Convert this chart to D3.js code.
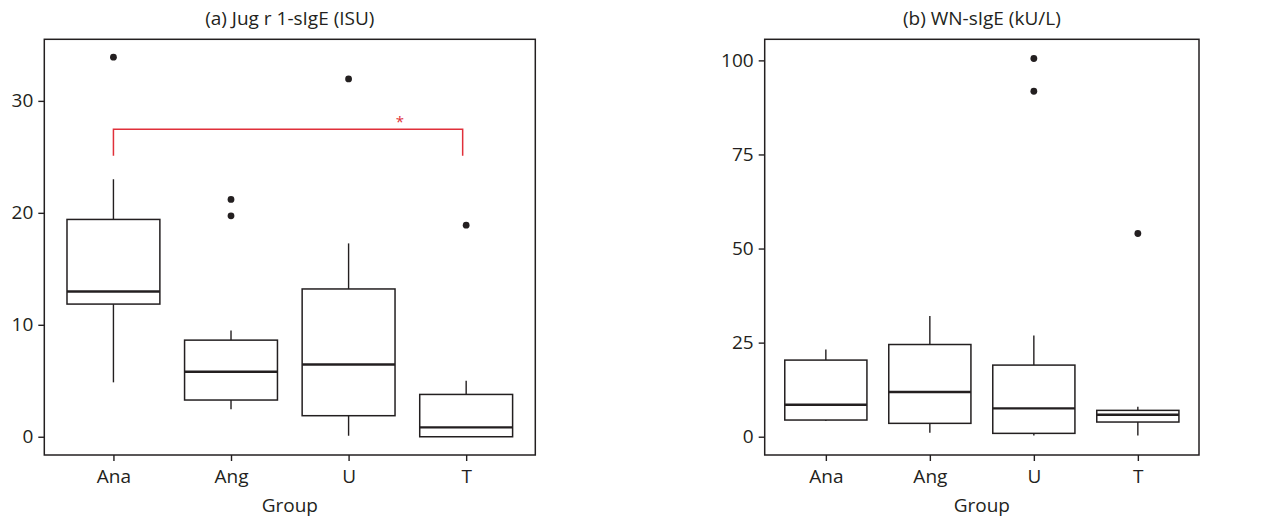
<!DOCTYPE html>
<html>
<head>
<meta charset="utf-8">
<script src="https://cdn.jsdelivr.net/npm/d3@7"></script>
<style>
  html, body { margin: 0; padding: 0; background: #fff; }
  svg text { font-family: "Open Sans", "Noto Sans", sans-serif; fill: #231f20; }
</style>
</head>
<body>
<svg id="chart" width="1271" height="519"></svg>
<script>
// ---- Data ----
const groups = ["Ana", "Ang", "U", "T"];

// Panel (a) Jug r 1-sIgE (ISU): [lowerWhisker, Q1, median, Q3, upperWhisker]
const jugStats = [
  [4.86, 11.85, 12.98, 19.41, 23.0],
  [2.45, 3.28, 5.8, 8.63, 9.5],
  [0.09, 1.88, 6.46, 13.2, 17.27],
  [0.0, 0.0, 0.84, 3.78, 5.0]
];
const jugOutliers = [[33.9], [21.2, 19.73], [31.96], [18.9]];
const jugTicks = [0, 10, 20, 30];
const jugDomain = [-1.63, 35.5];
const jugSig = { from: "Ana", to: "T", y: 27.47, yEnd: 25.1, label: "*" };

// Panel (b) WN-sIgE (kU/L)
const wnStats = [
  [4.2, 4.43, 8.5, 20.36, 23.2],
  [1.06, 3.55, 11.87, 24.5, 32.1],
  [0.35, 0.89, 7.53, 19.03, 26.9],
  [0.35, 3.9, 5.85, 7.0, 7.96]
];
const wnOutliers = [[], [], [100.5, 91.8], [54.0]];
const wnTicks = [0, 25, 50, 75, 100];
const wnDomain = [-4.86, 105.6];

const titles = ["(a) Jug r 1-sIgE (ISU)", "(b) WN-sIgE (kU/L)"];
const xLabel = "Group";

// ---- Drawing ----
const svg = d3.select("#chart");
const ink = "#231f20";
const red = "#e0303a";
const fs = "19px";

function panel(opts) {
  const { left, right, top, bottom, stats, outliers, ticks, domain, title, sig } = opts;
  const g = svg.append("g");
  const xc = d3.scalePoint().domain(groups).range([left, right]).padding(0.588);
  const step = xc.step();
  const boxW = step * 0.79;
  const y = d3.scaleLinear().domain(domain).range([bottom, top]);

  // Title
  g.append("text").attr("x", (left + right) / 2).attr("y", 25)
    .attr("text-anchor", "middle").style("font-size", fs).text(title);

  // Boxes
  groups.forEach((grp, i) => {
    const [lo, q1, med, q3, hi] = stats[i];
    const cx = xc(grp);
    const bg = g.append("g");
    bg.append("line").attr("x1", cx).attr("x2", cx).attr("y1", y(hi)).attr("y2", y(q3))
      .attr("stroke", ink).attr("stroke-width", 1.4);
    bg.append("line").attr("x1", cx).attr("x2", cx).attr("y1", y(q1)).attr("y2", y(lo))
      .attr("stroke", ink).attr("stroke-width", 1.4);
    bg.append("rect").attr("x", cx - boxW / 2).attr("width", boxW)
      .attr("y", y(q3)).attr("height", Math.max(0, y(q1) - y(q3)))
      .attr("fill", "#fff").attr("stroke", ink).attr("stroke-width", 1.5);
    bg.append("line").attr("x1", cx - boxW / 2).attr("x2", cx + boxW / 2)
      .attr("y1", y(med)).attr("y2", y(med)).attr("stroke", ink).attr("stroke-width", 2.4);
    outliers[i].forEach(v => {
      bg.append("circle").attr("cx", cx).attr("cy", y(v)).attr("r", 3.4).attr("fill", ink);
    });
  });

  // Significance bracket
  if (sig) {
    const x1 = xc(sig.from), x2 = xc(sig.to) - 3.5;
    g.append("path")
      .attr("d", `M${x1},${y(sig.yEnd)}V${y(sig.y)}H${x2}V${y(sig.yEnd)}`)
      .attr("fill", "none").attr("stroke", red).attr("stroke-width", 1.5);
    g.append("text").attr("x", x1 + (x2 - x1) * 0.82).attr("y", y(sig.y) - 2)
      .attr("text-anchor", "middle").style("font-size", "15px").style("fill", red).text(sig.label);
  }

  // Frame
  g.append("rect").attr("x", left).attr("y", top).attr("width", right - left).attr("height", bottom - top)
    .attr("fill", "none").attr("stroke", ink).attr("stroke-width", 1.5);

  // Axes
  const yAxis = d3.axisLeft(y).tickValues(ticks).tickSize(6).tickPadding(5).tickFormat(d3.format("d"));
  const ya = g.append("g").attr("transform", `translate(${left},0)`).call(yAxis);
  ya.select(".domain").remove();
  ya.selectAll(".tick line").attr("stroke", ink).attr("stroke-width", 1.4);
  ya.selectAll(".tick text").style("font-size", fs).style("font-family", "'Open Sans', sans-serif").attr("fill", ink);

  const xAxis = d3.axisBottom(xc).tickSize(6).tickPadding(9);
  const xa = g.append("g").attr("transform", `translate(0,${bottom})`).call(xAxis);
  xa.select(".domain").remove();
  xa.selectAll(".tick line").attr("stroke", ink).attr("stroke-width", 1.4);
  xa.selectAll(".tick text").style("font-size", fs).style("font-family", "'Open Sans', sans-serif").attr("fill", ink);

  g.append("text").attr("x", (left + right) / 2).attr("y", 512)
    .attr("text-anchor", "middle").style("font-size", fs).text(xLabel);
}

panel({ left: 44.3, right: 535.3, top: 39.3, bottom: 455, stats: jugStats, outliers: jugOutliers,
        ticks: jugTicks, domain: jugDomain, title: titles[0], sig: jugSig });
panel({ left: 764.7, right: 1199, top: 39.3, bottom: 455, stats: wnStats, outliers: wnOutliers,
        ticks: wnTicks, domain: wnDomain, title: titles[1], sig: null });
</script>
</body>
</html>
